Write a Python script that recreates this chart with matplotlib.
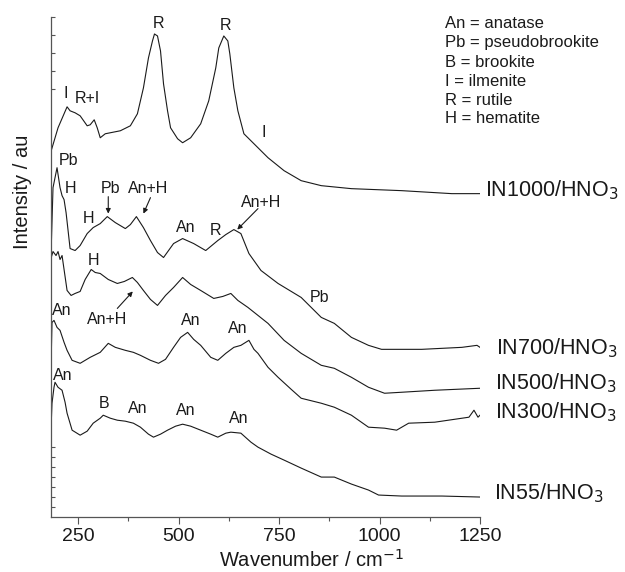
import matplotlib
matplotlib.use("Agg")
import matplotlib.pyplot as plt

plt.rcParams['font.family'] = ['Liberation Sans', 'DejaVu Sans']

# ---- data (wavenumber / cm-1, intensity in arbitrary offset units) ----
wn_1000 = [182.5, 183, 200, 222.5, 230, 242.5, 255, 272.5, 280, 290, 297.5, 305, 317.5, 330, 355, 380,
           397.5, 412.5, 425, 435, 440, 447.5, 455, 462.5, 472.5, 480, 497.5, 510, 530, 555, 575, 592.5,
           600, 612.5, 622.5, 627.5, 637.5, 647.5, 662.5, 687.5, 722.5, 762.5, 805, 855, 930, 1055,
           1180, 1250]
in_1000 = [330, 367, 390, 411, 407, 405, 402, 392, 393, 398, 390, 380, 384, 385, 387, 392,
           404, 430, 460, 477, 484, 482, 467, 434, 407, 390, 379, 375, 380, 394, 417, 450,
           470, 482, 477, 464, 430, 407, 384, 374, 360, 347, 337, 332, 329, 327,
           324, 324]

wn_700 = [182.5, 187.5, 197.5, 205, 210, 215, 220, 230, 242.5, 255, 272.5, 287.5, 305, 322.5, 342.5,
          367.5, 380, 395, 412.5, 430, 447.5, 462.5, 487.5, 510, 537.5, 567.5, 597.5, 617.5, 637.5,
          655, 675, 705, 747.5, 805, 855, 887.5, 930, 972.5, 1005, 1105, 1205, 1242.5, 1250]
in_700 = [262, 330, 350, 330, 322, 318, 305, 269, 267, 272, 284, 290, 294, 301, 295,
          289, 293, 301, 290, 277, 265, 260, 274, 279, 274, 267, 277, 283, 288,
          284, 264, 247, 234, 220, 200, 194, 180, 172, 168, 168, 170, 172, 170]

wn_500 = [182.5, 183, 187.5, 195, 200, 205, 210, 215, 222.5, 232.5, 242.5, 255, 267.5, 282.5, 292.5,
          305, 325, 347.5, 365, 385, 397.5, 412.5, 430, 447.5, 467.5, 487.5, 510, 530, 555, 587.5,
          610, 630, 647.5, 672.5, 722.5, 762.5, 805, 855, 887.5, 930, 972.5, 1012.5, 1055, 1137.5, 1250]
in_500 = [205, 260, 266, 262, 266, 258, 262, 248, 227, 222, 224, 226, 238, 248, 245,
          244, 238, 234, 236, 240, 235, 227, 218, 212, 222, 230, 240, 233, 227, 219,
          221, 224, 217, 210, 194, 177, 164, 152, 149, 140, 130, 124, 125, 127, 129]

wn_300 = [182.5, 185, 190, 197.5, 205, 215, 222.5, 235, 255, 280, 305, 325, 342.5, 367.5, 387.5, 405,
          430, 450, 467.5, 487.5, 505, 522.5, 537.5, 555, 580, 597.5, 617.5, 637.5, 655, 675, 687.5,
          697.5, 722.5, 747.5, 780, 805, 855, 887.5, 930, 972.5, 1012.5, 1042.5, 1072.5, 1137.5,
          1222.5, 1235, 1245, 1250]
in_300 = [150, 195, 197, 190, 187, 175, 167, 157, 154, 160, 165, 174, 170, 167, 165, 162,
          157, 154, 158, 170, 180, 185, 178, 172, 160, 157, 164, 170, 172, 177, 168,
          164, 150, 140, 128, 119, 114, 110, 102, 90, 89, 87, 94, 95,
          100, 107, 100, 102]

wn_55 = [182.5, 185, 190, 192.5, 200, 210, 217.5, 222.5, 235, 255, 272.5, 287.5, 305, 312.5, 330,
         347.5, 367.5, 387.5, 405, 425, 437.5, 455, 472.5, 492.5, 510, 530, 555, 580, 597.5, 617.5,
         630, 655, 680, 697.5, 730, 762.5, 805, 855, 887.5, 930, 972.5, 997.5, 1055, 1155, 1250]
in_55 = [88, 114, 130, 135, 130, 127, 115, 104, 87, 82, 86, 94, 99, 102, 99,
         97, 96, 94, 90, 83, 80, 83, 87, 91, 93, 91, 87, 83, 80, 84,
         85, 84, 75, 70, 63, 57, 49, 40, 40, 33, 27, 22, 21, 21, 20]

series = [
    (wn_1000, in_1000, "IN1000/HNO$_3$", (1262, 327)),
    (wn_700, in_700, "IN700/HNO$_3$", (1290, 169)),
    (wn_500, in_500, "IN500/HNO$_3$", (1287, 134)),
    (wn_300, in_300, "IN300/HNO$_3$", (1287, 105)),
    (wn_55, in_55, "IN55/HNO$_3$", (1285, 24)),
]

# peak annotations: (text, wavenumber, intensity)
peak_labels = [
    ("I", 220, 424), ("R+I", 272.5, 419), ("R", 450, 494), ("R", 617.5, 492), ("I", 712.5, 385),
    ("Pb", 225, 357), ("H", 230, 329), ("H", 275, 299), ("Pb", 330, 329), ("An+H", 425, 329),
    ("An", 517.5, 290), ("R", 592.5, 287), ("An+H", 705, 315), ("Pb", 850, 220),
    ("H", 287.5, 257), ("An+H", 322.5, 198),
    ("An", 210, 207), ("An", 530, 197), ("An", 647.5, 189),
    ("An", 212.5, 142), ("B", 315, 114), ("An", 397.5, 109), ("An", 517.5, 107), ("An", 650, 99),
]
# arrows: (start wn, start int, end wn, end int)
arrows = [
    (325, 321, 325, 304),
    (430, 320, 412.5, 304),
    (697.5, 309, 646, 288),
    (347.5, 209, 386, 226),
]

legend_lines = ["An = anatase", "Pb = pseudobrookite", "B = brookite",
                "I = ilmenite", "R = rutile", "H = hematite"]
legend_y = [494, 475, 455, 436, 417, 399]

x_ticks = [250, 500, 750, 1000, 1250]
x_minor = [375, 625, 875, 1125]
y_ticks = [501, 483, 465, 447, 429, 70, 60, 50, 40, 30, 20, 10]

# ---- figure ----
fig = plt.figure(figsize=(6.25, 5.72), dpi=100)
ax = fig.add_axes([51 / 625, 1 - 517 / 572, 429 / 625, 500 / 572])

line_color = "#1a1a1a"
for wn, inten, name, (lx, ly) in series:
    ax.plot(wn, inten, color=line_color, lw=0.8)
    ax.text(lx, ly, name, fontsize=15.5, color="#1a1a1a", ha="left", va="center",
            clip_on=False)

for txt, x, y in peak_labels:
    ax.text(x, y, txt, fontsize=11.5, color="#1a1a1a", ha="center", va="center")

for x0, y0, x1, y1 in arrows:
    ax.annotate("", xy=(x1, y1), xytext=(x0, y0),
                arrowprops=dict(arrowstyle="-|>", color="#1a1a1a", lw=0.8,
                                mutation_scale=7, shrinkA=0, shrinkB=0))

for txt, y in zip(legend_lines, legend_y):
    ax.text(1162, y, txt, fontsize=12, color="#1a1a1a", ha="left", va="center",
            clip_on=False)

ax.set_xlim(182.5, 1250)
ax.set_ylim(0, 500)
ax.set_xticks(x_ticks)
ax.set_xticks(x_minor, minor=True)
ax.set_yticks(y_ticks)
ax.set_yticklabels([])
ax.tick_params(axis="x", which="major", direction="out", length=5, width=0.8,
               labelsize=14, pad=3, colors="#555555", labelcolor="#1a1a1a")
ax.tick_params(axis="x", which="minor", direction="out", length=3, width=0.8, colors="#555555")
ax.tick_params(axis="y", which="major", direction="in", length=3, width=0.8, colors="#555555")

for s in ("top", "right"):
    ax.spines[s].set_visible(False)
for s in ("left", "bottom"):
    ax.spines[s].set_color("#555555")
    ax.spines[s].set_linewidth(0.9)

ax.set_xlabel("Wavenumber / cm$^{-1}$", fontsize=14.5, color="#1a1a1a")
ax.xaxis.set_label_coords(0.606, -0.064)
ax.set_ylabel("Intensity / au", fontsize=14.5, color="#1a1a1a")
ax.yaxis.set_label_coords(-0.045, 0.65)

fig.savefig("out.png", dpi=100)
